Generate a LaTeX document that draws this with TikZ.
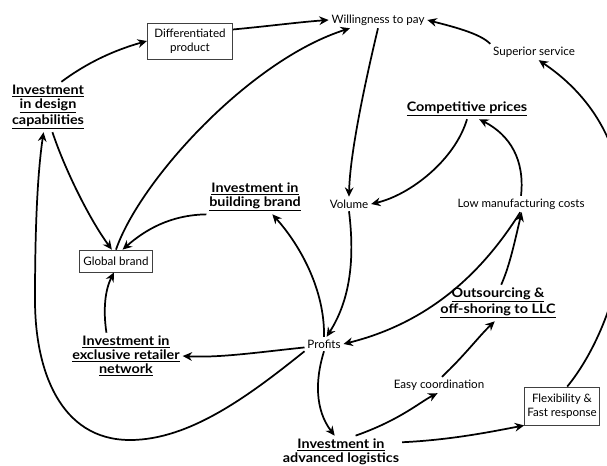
\documentclass[tikz,border=0pt]{standalone}
\usepackage{fontspec}
\setmainfont{Lato}
\newfontfamily\invfont{Lato}[FakeStretch=1.1]
\usepackage{tikz}
\usetikzlibrary{arrows.meta}

\begin{document}
\begin{tikzpicture}[x=0.75pt,y=0.75pt,yscale=-1,xscale=1,
    txt/.style={inner sep=2pt, align=center, font=\fontsize{8.7}{10.8}\selectfont},
    inv/.style={inner sep=2pt, align=center, font=\invfont\fontsize{9.8}{10.6}\selectfont\bfseries},
    boxed/.style={txt, draw=black!75, line width=0.6pt},
    link/.style={-{Stealth[length=7pt,width=6.5pt]}, line width=1.3pt}]
    \useasboundingbox (0,0) rectangle (607,465);

    % Text Node
    \draw (190,41) node [boxed, minimum width=64pt, minimum height=27pt] (diff) {Differentiated\\product};
    % Text Node
    \draw (378,20) node [txt] (wtp) {Willingness to pay};
    % Text Node
    \draw (534,52) node [txt] (sup) {Superior service};
    % Text Node
    \draw (48,107) node [inv] (design) {\underline{Investment}\\\underline{in design}\\\underline{capabilities}};
    % Text Node
    \draw (467,109) node [inv] (comp) {\underline{Competitive prices}};
    % Text Node
    \draw (255,197) node [inv] (build) {\underline{Investment in}\\\underline{building brand}};
    % Text Node
    \draw (349,204) node [txt] (vol) {Volume};
    % Text Node
    \draw (521,204) node [txt] (lowc) {Low manufacturing costs};
    % Text Node
    \draw (116,261) node [boxed, minimum width=55pt, minimum height=16.5pt] (glob) {Global brand};
    % Text Node
    \draw (498,303) node [inv] (outs) {\underline{Outsourcing \&}\\\underline{off-shoring to LLC}};
    % Text Node
    \draw (324,344) node [txt] (prof) {Profits};
    % Text Node
    \draw (126,356) node [inv] (retail) {\underline{Investment in}\\\underline{exclusive retailer}\\\underline{network}};
    % Text Node
    \draw (439,385) node [txt] (easy) {Easy coordination};
    % Text Node
    \draw (562,406) node [boxed, minimum width=56pt, minimum height=28.5pt] (flex) {Flexibility \&\\Fast response};
    % Text Node
    \draw (341,453) node [inv] (logi) {\underline{Investment in}\\\underline{advanced logistics}};

    %Curve Lines
    \draw [link] (design.62) .. controls (88,62) and (115,50) .. (diff.west);
    %Curve Lines
    \draw [link] (diff.15) .. controls (270,26) and (300,22) .. (wtp.west);
    %Curve Lines
    \draw [link] (glob.north) .. controls (140,180) and (250,60) .. ([xshift=16pt]wtp.south west);
    %Curve Lines
    \draw [link] (sup.north west) .. controls (480,33) and (450,26) .. (wtp.east);
    %Curve Lines
    \draw [link] (wtp.south) .. controls (368,70) and (350,150) .. (vol.north);
    %Curve Lines
    \draw [link] (comp.south) .. controls (455,160) and (410,195) .. (vol.east);
    %Curve Lines
    \draw [link] (lowc.north) .. controls (525,160) and (510,135) .. (comp.-40);
    %Curve Lines
    \draw [link] (flex.75) .. controls (622,320) and (672,150) .. (sup.-60);
    %Curve Lines
    \draw [link] (design.-80) .. controls (65,170) and (90,220) .. (glob.110);
    %Curve Lines
    \draw [link] (build.south west) .. controls (170,215) and (145,230) .. (glob.60);
    %Curve Lines
    \draw [link] (prof.south west) .. controls (250,395) and (190,440) .. (130,440) .. controls (60,440) and (35,370) .. (35,300) .. controls (35,220) and (38,170) .. (design.-100);
    %Curve Lines
    \draw [link] (prof.190) .. controls (260,352) and (220,358) .. (retail.east);
    %Curve Lines
    \draw [link] (retail.130) .. controls (103,310) and (105,290) .. (glob.-100);
    %Curve Lines
    \draw [link] (prof.north) .. controls (325,290) and (300,245) .. (build.-45);
    %Curve Lines
    \draw [link] (vol.south) .. controls (355,260) and (350,300) .. (prof.70);
    %Curve Lines
    \draw [link] (lowc.-95) .. controls (490,260) and (440,320) .. (prof.east);
    %Curve Lines
    \draw [link] (outs.80) .. controls (510,265) and (515,240) .. (lowc.-85);
    %Curve Lines
    \draw [link] (prof.south) .. controls (315,380) and (315,410) .. (logi.110);
    %Curve Lines
    \draw [link] (logi.50) .. controls (400,420) and (420,402) .. (easy.-100);
    %Curve Lines
    \draw [link] (easy.70) .. controls (465,355) and (480,335) .. (outs.-100);
    %Curve Lines
    \draw [link] (logi.10) .. controls (450,440) and (490,432) .. (flex.south west);

\end{tikzpicture}
\end{document}
